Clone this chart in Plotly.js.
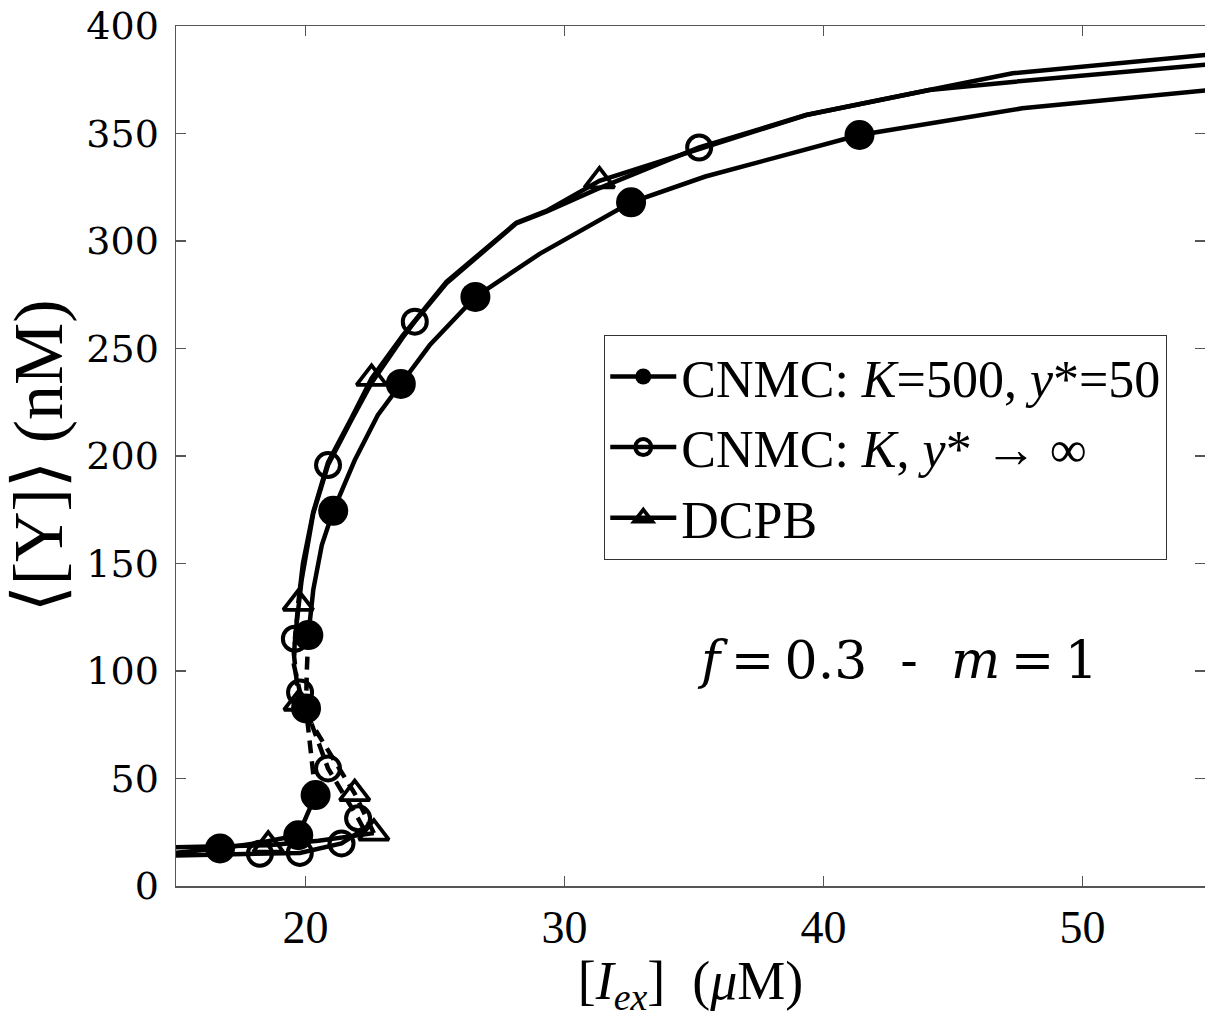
<!DOCTYPE html>
<html><head><meta charset="utf-8">
<script src="https://cdn.plot.ly/plotly-3.0.1.min.js"></script>
<style>html,body{margin:0;padding:0;background:#fff}#chart{width:1205px;height:1018px}</style>
</head><body><div id="chart"></div>
<script>
// Series 1: CNMC K=500, y*=50 (filled circles)
const s1LowX = [15, 16.7, 18.3, 19.72, 20.39];
const s1LowY = [15.5, 17.5, 20.2, 23.6, 42.3];
const s1MidX = [20.39, 20.15, 20.02, 20.05, 20.11];
const s1MidY = [42.3, 68, 82.6, 100, 116.7];
const s1UpX = [20.11, 20.3, 20.63, 21.07, 21.9, 22.79, 23.68, 24.8, 26.56, 29.04, 32.57, 35.44, 41.39, 47.67, 54.75];
const s1UpY = [116.7, 137.7, 158.6, 174.5, 198, 219, 233.5, 251.6, 274, 294, 318, 330, 349.3, 361.7, 370];
const s1MkX = [16.7, 19.72, 20.39, 20.02, 20.11, 21.07, 23.68, 26.56, 32.57, 41.39];
const s1MkY = [17.5, 23.6, 42.3, 82.6, 116.7, 174.5, 233.5, 274, 318, 349.3];

// Series 2: CNMC K, y* -> inf (open circles)
const s2LowX = [15, 18.24, 19.78, 21.39, 22.25];
const s2LowY = [14.2, 15.0, 15.4, 19.8, 26.5];
const s2MidX = [22.25, 22.03, 20.87, 19.79, 19.55, 19.59];
const s2MidY = [26.5, 31.5, 54.7, 90.0, 103, 115];
const s2UpX = [19.59, 19.85, 20.3, 20.87, 21.77, 22.55, 23.75, 24.22, 25.44, 28.14, 29.3, 31.23, 35.2, 39.33, 44.08, 47.3, 54.75];
const s2UpY = [115, 142.3, 173.3, 195.8, 216.7, 234, 255, 262.5, 280.3, 308.2, 313.6, 324, 343.5, 358.6, 370.2, 374, 382];
const s2MkX = [18.24, 19.78, 21.39, 22.03, 20.87, 19.79, 19.59, 20.87, 24.22, 35.2];
const s2MkY = [15.0, 15.4, 19.8, 31.5, 54.7, 90.0, 115, 195.8, 262.5, 343.5];

// Series 3: DCPB (open triangles)
const s3LowX = [15, 18.56, 20.5, 22.64];
const s3LowY = [18.0, 19.0, 21.0, 24.6];
const s3MidX = [22.64, 21.9, 19.75, 19.55, 19.72];
const s3MidY = [24.6, 43, 85, 108, 131.5];
const s3UpX = [19.72, 19.9, 20.3, 20.87, 21.77, 22.55, 23.75, 25.44, 28.14, 29.3, 31.35, 35.2, 39.33, 44.08, 47.3, 54.75];
const s3UpY = [131.5, 150, 174, 197, 217.5, 236.1, 256, 281, 308.5, 314, 328, 343, 358.6, 370.2, 378, 386.5];
const s3MkX = [18.56, 22.64, 21.9, 19.75, 19.72, 22.55, 31.35];
const s3MkY = [19.0, 24.6, 43, 85, 131.5, 236.1, 328];

const legendNames = ['CNMC: <i>K</i>=500, <i>y</i>*=50', 'CNMC: <i>K</i>, <i>y</i>* \u2192 \u221e', 'DCPB'];
const xTicks = [20, 30, 40, 50];
const yTicks = [0, 50, 100, 150, 200, 250, 300, 350, 400];

const LW = 4.5;
function line(x, y, dash) {
  return {x: x, y: y, type: 'scatter', mode: 'lines', showlegend: false, hoverinfo: 'skip',
          line: {color: '#000', width: LW, dash: dash || 'solid'}};
}
const mk1 = {symbol: 'circle', size: 30, color: '#000', line: {width: 0}};
const mk2 = {symbol: 'circle-open', size: 24, color: '#000', line: {width: 4, color: '#000'}};
const mk3 = {symbol: 'triangle-up-open', size: 26, color: '#000', line: {width: 3.8, color: '#000'}};
function marks(x, y, m) {
  return {x: x, y: y, type: 'scatter', mode: 'markers', showlegend: false, marker: m};
}
function proxy(name, m) {
  return {x: [null], y: [null], type: 'scatter', mode: 'lines+markers', name: name, showlegend: true,
          line: {color: '#000', width: LW}, marker: m};
}
const DASH = '13px,8px';
const data = [
  line(s1LowX, s1LowY), line(s1MidX, s1MidY, DASH), line(s1UpX, s1UpY),
  line(s2LowX, s2LowY), line(s2MidX, s2MidY, DASH), line(s2UpX, s2UpY),
  line(s3LowX, s3LowY), line(s3MidX, s3MidY, DASH), line(s3UpX, s3UpY),
  marks(s1MkX, s1MkY, mk1), marks(s2MkX, s2MkY, mk2), marks(s3MkX, s3MkY, mk3),
  proxy(legendNames[0], mk1), proxy(legendNames[1], mk2), proxy(legendNames[2], mk3)
];
const axisCommon = {
  ticks: 'inside', ticklen: 10, tickwidth: 1.2, tickcolor: '#555',
  showline: true, linecolor: '#555', linewidth: 1.5, mirror: 'ticks',
  showgrid: false, zeroline: false
};
const layout = {
  width: 1205, height: 1018,
  margin: {l: 176, r: 0, t: 26, b: 132},
  paper_bgcolor: '#fff', plot_bgcolor: '#fff',
  xaxis: Object.assign({}, axisCommon, {
    range: [15, 54.73], tickmode: 'array', tickvals: xTicks, ticktext: xTicks.map(String),
    tickfont: {family: 'Liberation Serif', size: 46, color: '#000'}, ticklabelstandoff: 0,
    title: {text: '[<i>I</i><sub><i>ex</i></sub>]  (<i>\u03bc</i>M)', font: {family: 'Liberation Serif', size: 54, color: '#000'}, standoff: 0}
  }),
  yaxis: Object.assign({}, axisCommon, {
    range: [0, 400], tickmode: 'array', tickvals: yTicks, ticktext: yTicks.map(String),
    tickfont: {family: 'DejaVu Serif', size: 38, color: '#000'}, ticklabelstandoff: 8,
    title: {text: '\u27e8[Y]\u27e9 (nM)', font: {family: 'Liberation Serif, DejaVu Serif', size: 70, color: '#000'}, standoff: 6}
  }),
  legend: {x: 0.416, y: 0.6407, xanchor: 'left', yanchor: 'top', bgcolor: '#fff',
           bordercolor: '#333', borderwidth: 1.2, itemwidth: 66,
           entrywidth: 620, entrywidthmode: 'pixels',
           font: {family: 'Liberation Serif', size: 52, color: '#000'}},
  annotations: [{x: 42.84, y: 105, xref: 'x', yref: 'y', showarrow: false,
                 text: '<i>f</i>\u2009=\u20090.3 \u00a0-\u00a0 <i>m</i>\u2009=\u20091',
                 font: {family: 'DejaVu Serif', size: 52, color: '#000'}}]
};
Plotly.newPlot('chart', data, layout, {staticPlot: true});
</script></body></html>
